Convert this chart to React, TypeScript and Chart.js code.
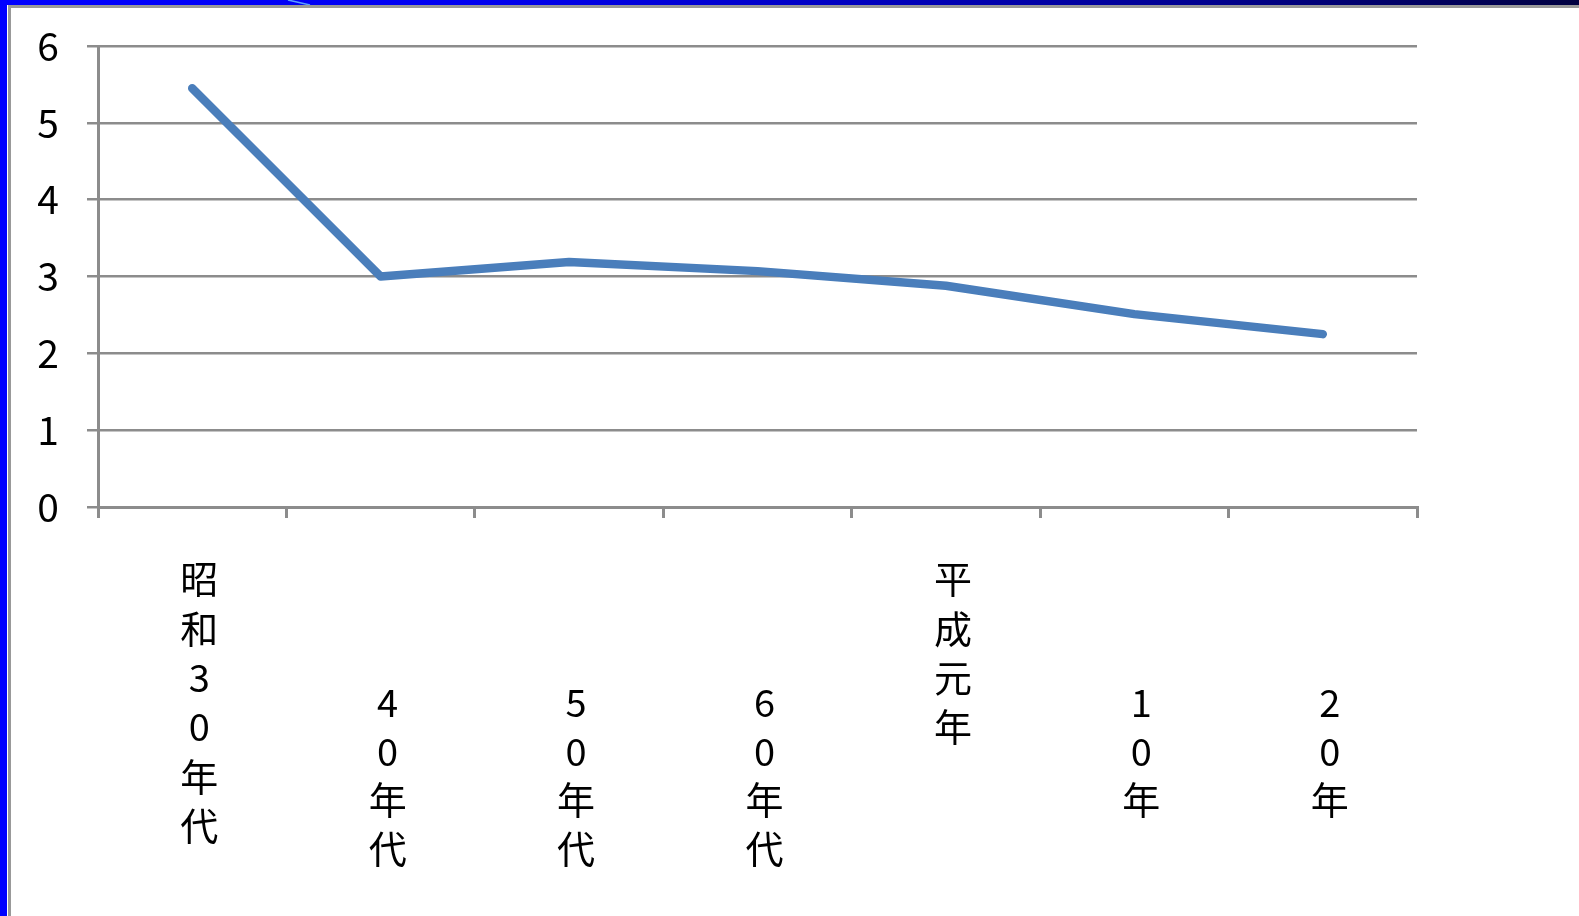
import React, { useEffect, useRef } from "react";
import { Chart, registerables } from "chart.js";

Chart.register(...registerables);

// Era categories along the bottom axis
const categories = ["昭和30年代", "40年代", "50年代", "60年代", "平成元年", "10年", "20年"];
// Series values
const values = [5.45, 3.0, 3.19, 3.07, 2.88, 2.51, 2.25];
// Value-axis tick labels
const yTicks = [0, 1, 2, 3, 4, 5, 6];

const FONT = '"Noto Sans CJK JP", "Noto Sans", sans-serif';
const GRID = "#8c8c8c";

// Labels that start with a digit continue the previous era name.
const isContinuation = (label: string) => /^\d/.test(label);
const longest = Math.max(...categories.map((c) => Array.from(c).length));

// Each label is written one character per line. Labels are centred on the
// axis band, so era-start labels are padded below to the longest length
// (they begin at the top), while continuation labels are padded above so
// they begin at the middle of the band.
function stackLabel(label: string): string[] {
  const chars = Array.from(label);
  if (isContinuation(label)) {
    return [...Array(chars.length - 1).fill(""), ...chars];
  }
  return [...chars, ...Array(longest - chars.length).fill("")];
}

function labelLineHeight(index: number | undefined): number {
  const label = index === undefined ? "" : categories[index] ?? "";
  return isContinuation(label) ? 48.5 : 49.4;
}

export default function App() {
  const canvasRef = useRef<HTMLCanvasElement | null>(null);

  useEffect(() => {
    const canvas = canvasRef.current;
    if (!canvas) return;
    const chart = new Chart(canvas, {
      type: "line",
      data: {
        labels: categories,
        datasets: [
          {
            data: values,
            borderColor: "#4A7EBB",
            backgroundColor: "#4A7EBB",
            borderWidth: 8.5,
            borderCapStyle: "round",
            borderJoinStyle: "round",
            pointRadius: 0,
            pointHoverRadius: 0,
            tension: 0,
            fill: false,
          },
        ],
      },
      options: {
        responsive: false,
        animation: false,
        events: [],
        layout: { padding: { top: 46, right: 162, bottom: 0, left: 0 } },
        plugins: {
          legend: { display: false },
          tooltip: { enabled: false },
          title: { display: false },
        },
        scales: {
          x: {
            type: "category",
            offset: true,
            afterFit: (scale: any) => {
              scale.height = 409;
            },
            grid: {
              offset: true,
              drawOnChartArea: false,
              drawTicks: true,
              tickLength: 11,
              color: GRID,
              lineWidth: 3,
            },
            border: { display: true, color: GRID, width: 3 },
            ticks: {
              autoSkip: false,
              maxRotation: 0,
              minRotation: 0,
              crossAlign: "center",
              padding: 39.25,
              labelOffset: 7,
              color: "#000",
              font: (ctx: any) => ({
                family: FONT,
                size: 38,
                lineHeight: `${labelLineHeight(ctx?.index)}px`,
              }),
              callback: (_value: any, index: number) => stackLabel(categories[index]),
            },
          },
          y: {
            min: 0,
            max: 6,
            afterFit: (scale: any) => {
              scale.width = 98;
              // the label gap is horizontal only; keep it out of the vertical layout
              scale.paddingTop = 0;
              scale.paddingBottom = 0;
            },
            afterBuildTicks: (scale: any) => {
              scale.ticks = yTicks.map((v) => ({ value: v }));
            },
            grid: {
              color: GRID,
              lineWidth: 2.5,
              tickLength: 11,
              drawTicks: true,
            },
            border: { display: true, color: GRID, width: 3 },
            ticks: {
              padding: 28,
              color: "#000",
              font: { family: FONT, size: 39 },
              callback: (value: any) => String(value),
            },
          },
        },
      },
    } as any);
    return () => chart.destroy();
  }, []);

  return (
    <div
      style={{
        position: "fixed",
        left: 0,
        top: 0,
        width: 1579,
        height: 916,
        background: "#ffffff",
        overflow: "hidden",
      }}
    >
      <canvas
        ref={canvasRef}
        width={1579}
        height={916}
        style={{ position: "absolute", left: 0, top: 0, width: 1579, height: 916 }}
      />
      {/* slide frame: blue band on top, blue strip on the left, grey rules inside */}
      <div
        style={{
          position: "absolute",
          left: 0,
          top: 0,
          width: 1579,
          height: 5,
          background:
            "linear-gradient(to right, #0000ff 0%, #0000f0 30%, #0000c8 50%, #000090 76%, #000040 100%)",
        }}
      />
      <svg width={40} height={6} style={{ position: "absolute", left: 282, top: 0 }}>
        <line x1={6} y1={0} x2={28} y2={5} stroke="#5aa0ff" strokeWidth={1.5} />
      </svg>
      <div
        style={{
          position: "absolute",
          left: 8,
          top: 5,
          width: 1571,
          height: 3,
          background: "#999999",
        }}
      />
      <div
        style={{
          position: "absolute",
          left: 0,
          top: 0,
          width: 7,
          height: 916,
          background: "#0000ff",
        }}
      />
      <div
        style={{
          position: "absolute",
          left: 8,
          top: 5,
          width: 3,
          height: 911,
          background: "#999999",
        }}
      />
    </div>
  );
}
